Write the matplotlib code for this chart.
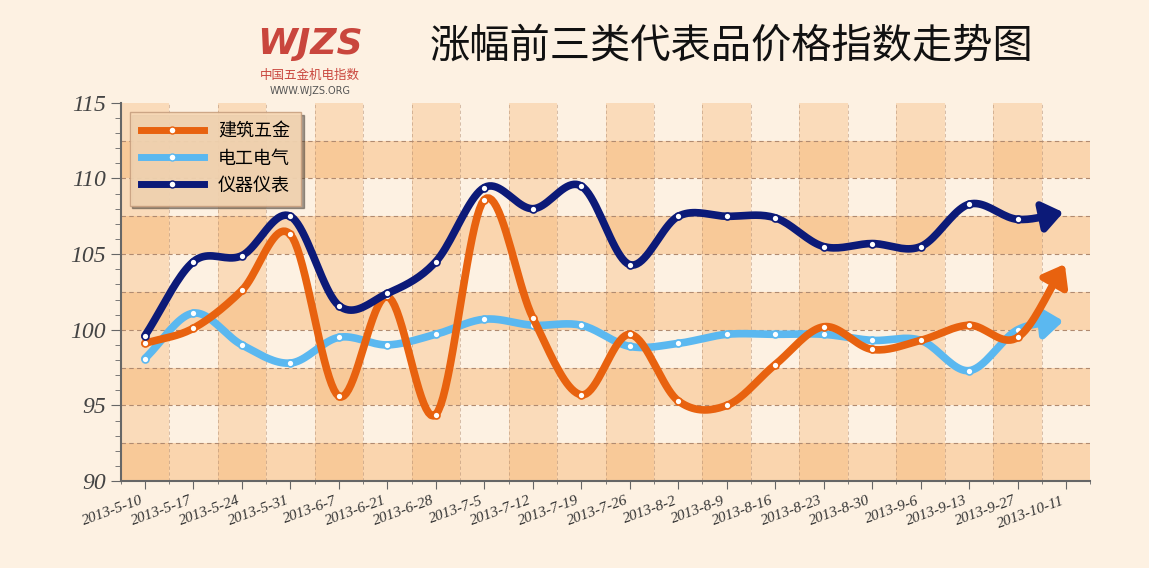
import numpy as np
import matplotlib
matplotlib.use("Agg")
import matplotlib.pyplot as plt
from matplotlib.patches import FancyArrowPatch

plt.rcParams['font.family'] = ['Noto Sans CJK SC', 'DejaVu Sans']

dates = ["2013-5-10","2013-5-17","2013-5-24","2013-5-31","2013-6-7","2013-6-21","2013-6-28",
         "2013-7-5","2013-7-12","2013-7-19","2013-7-26","2013-8-2","2013-8-9","2013-8-16",
         "2013-8-23","2013-8-30","2013-9-6","2013-9-13","2013-9-27","2013-10-11"]
jianzhu = [99.1,100.1,102.6,106.3,95.6,102.2,94.4,108.6,100.8,95.7,99.7,95.3,95.0,97.7,100.2,98.7,99.3,100.3,99.5,104.5]
diangong = [98.1,101.1,99.0,97.8,99.5,99.0,99.7,100.7,100.3,100.3,98.9,99.1,99.7,99.7,99.7,99.3,99.3,97.3,100.0,100.6]
yiqi = [99.6,104.5,104.9,107.5,101.6,102.4,104.5,109.4,108.0,109.5,104.3,107.5,107.5,107.4,105.5,105.7,105.5,108.3,107.3,107.8]
names = ["建筑五金","电工电气","仪器仪表"]
colors = ["#e8620f","#5bb8f0","#0c1a78"]

def smooth(x, y, n=20):
    x = np.asarray(x, float); y = np.asarray(y, float)
    P = np.column_stack([x, y])
    P = np.vstack([2*P[0]-P[1], P, 2*P[-1]-P[-2]])
    out = []
    t = np.linspace(0, 1, n, endpoint=False)
    for i in range(1, len(P)-2):
        p0, p1, p2, p3 = P[i-1], P[i], P[i+1], P[i+2]
        for tt in t:
            out.append(0.5*((2*p1) + (-p0+p2)*tt + (2*p0-5*p1+4*p2-p3)*tt**2 + (-p0+3*p1-3*p2+p3)*tt**3))
    out.append(P[-2])
    out = np.array(out)
    return out[:, 0], out[:, 1]

fig = plt.figure(figsize=(11.49, 5.68), dpi=100, facecolor="#fdf1e2")
ax = fig.add_axes([0.105, 0.153, 0.844, 0.666])
ax.set_facecolor("#fdf1e2")
n = len(dates)
x = np.arange(n)
ax.set_xlim(-0.5, n-0.5)
ax.set_ylim(90, 115)

for k in range(10):
    lo = 90 + 2.5*k
    if k % 2 == 0:
        ax.axhspan(lo, lo+2.5, color="#f7b370", alpha=0.45, lw=0, zorder=0)
for i in range(n):
    if i % 2 == 0:
        ax.axvspan(i-0.5, i+0.5, color="#f7b370", alpha=0.35, lw=0, zorder=0)
for k in range(1, 10):
    ax.axhline(90+2.5*k, color="#b08a70", ls=(0, (4, 3)), lw=0.8, zorder=1)
for i in range(n):
    ax.axvline(i+0.5, color="#b08a70", ls=(0, (4, 3)), lw=0.6, alpha=0.6, zorder=1)

handles = []
for data, c, name, z in zip([jianzhu, diangong, yiqi], colors, names, [4, 3, 5]):
    sx, sy = smooth(x, data)
    ax.plot(sx[:-6], sy[:-6], color=c, lw=5.5, solid_capstyle='round', zorder=z)
    ar = FancyArrowPatch((sx[-8], sy[-8]), (sx[-1], sy[-1]), arrowstyle='-|>,head_length=8,head_width=6',
                         color=c, lw=5, mutation_scale=1.5, zorder=z)
    ax.add_patch(ar)
    ax.plot(x[:-1], data[:-1], 'o', ms=5, mfc='white', mec=c, mew=1.2, zorder=z+0.5)
    h, = ax.plot([], [], color=c, lw=5, marker='o', ms=5, mfc='white', mec=c)
    handles.append(h)

leg = ax.legend(handles, names, loc='upper left', bbox_to_anchor=(0.0, 1.0), fontsize=13,
                frameon=True, facecolor="#f8d9b6", edgecolor="#c8a080", shadow=True,
                handlelength=3.5, borderpad=0.6, labelspacing=0.5, fancybox=False)
leg.get_frame().set_alpha(0.9)
leg.set_zorder(10)

ax.set_yticks([90, 95, 100, 105, 110, 115])
ax.set_yticks(np.arange(90, 115.1, 1), minor=True)
ax.set_yticklabels([str(v) for v in [90, 95, 100, 105, 110, 115]],
                   fontfamily='Liberation Serif', fontstyle='italic', fontsize=17, color="#444")
ax.set_xticks(x)
ax.set_xticklabels(dates, rotation=20, ha='right', fontfamily='Liberation Serif',
                   fontstyle='italic', fontsize=11, color="#333")
ax.set_xticks(np.arange(-0.5, n, 0.5), minor=True)
ax.tick_params(axis='both', which='both', color="#666", direction='out')
ax.tick_params(axis='y', which='major', length=7)
ax.tick_params(axis='y', which='minor', length=4)
ax.tick_params(axis='x', which='major', length=6)
for s in ['top', 'right']:
    ax.spines[s].set_visible(False)
for s in ['left', 'bottom']:
    ax.spines[s].set_color("#666")
    ax.spines[s].set_linewidth(1.5)

fig.text(0.637, 0.917, "涨幅前三类代表品价格指数走势图", fontsize=29, ha='center', va='center',
         color="#111", fontweight='medium')
fig.text(0.27, 0.922, "WJZS", fontsize=26, color="#c9463d", fontstyle='italic', fontweight='bold',
         ha='center', va='center', fontfamily='DejaVu Sans')
fig.text(0.27, 0.868, "中国五金机电指数", fontsize=9, color="#c9463d", ha='center', va='center')
fig.text(0.27, 0.84, "WWW.WJZS.ORG", fontsize=7, color="#555", ha='center', va='center', fontfamily='DejaVu Sans')

fig.savefig("out.png", dpi=100, facecolor=fig.get_facecolor())
